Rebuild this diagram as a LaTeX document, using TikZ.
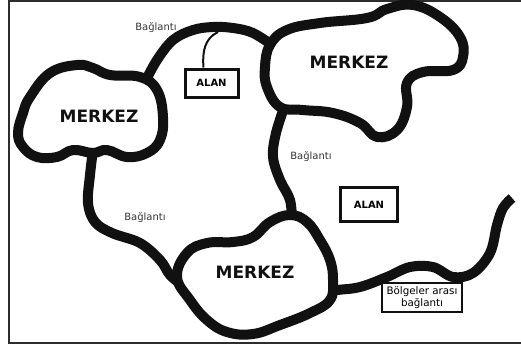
\documentclass[tikz,border=0pt]{standalone}
\usepackage{fontspec}
\usepackage{tikz}
\setmainfont{DejaVu Sans}
\definecolor{map-ink}{RGB}{17, 17, 17}
\definecolor{map-frame}{RGB}{45, 45, 45}

\begin{document}
\begin{tikzpicture}[x=1pt, y=-1pt,
    road/.style={line width=10pt, color=map-ink, line cap=round, line join=round},
    blob/.style={line width=10pt, draw=map-ink, fill=white, line join=round},
    centre/.style={font=\fontsize{17}{19}\selectfont\bfseries, color=map-ink},
    linklabel/.style={font=\fontsize{10}{12}\selectfont, color=map-ink!85},
    areabox/.style={rectangle, draw=map-ink, line width=3pt, fill=white, font=\fontsize{10}{12}\selectfont\bfseries, inner sep=0pt},
    notebox/.style={rectangle, draw=map-ink, line width=1.2pt, fill=white, font=\fontsize{10.3}{12}\selectfont, align=center, inner sep=0pt}]
    \clip (0,0) rectangle (521,348);
    \draw[line width=2pt, color=map-frame] (9,1) rectangle (540,343);

    % roads between the centres
    \draw[road] plot[smooth, tension=0.6] coordinates {(93,150) (90,175) (88,203) (95,222) (112,233) (140,243) (160,260) (170,275) (182,285)};
    \draw[road] plot[smooth, tension=0.6] coordinates {(145,82) (157,60) (173,40) (193,30) (213,27) (233,28) (253,33) (275,47)};
    \draw[road] plot[smooth, tension=0.6] coordinates {(285,105) (276,133) (273,157) (280,180) (290,200) (292,222)};
    \draw[road, line cap=butt] plot[smooth, tension=0.6] coordinates {(322,292) (337,290) (360,287) (387,277) (410,267) (433,267) (453,277) (473,273) (490,253) (497,225) (503,208) (512,198)};

    % the three centres
    \draw[blob] plot[smooth cycle, tension=0.7] coordinates {(30,97) (50,73) (77,65) (93,68) (110,75) (140,77) (157,90) (163,117) (160,140) (147,153) (127,157) (107,150) (93,153) (73,150) (57,157) (37,157) (23,147) (18,133) (23,113)};
    \draw[blob] plot[smooth cycle, tension=0.7] coordinates {(265,67) (270,45) (287,30) (320,23) (367,18) (387,9) (413,5) (440,17) (460,37) (463,57) (453,70) (423,72) (407,83) (407,107) (397,130) (377,137) (360,123) (333,113) (303,110) (280,107) (267,87)};
    \draw[blob] plot[smooth cycle, tension=0.7] coordinates {(177,277) (187,253) (207,243) (233,242) (253,237) (270,222) (290,215) (307,222) (320,240) (330,260) (333,280) (330,300) (310,313) (280,325) (253,334) (227,332) (207,320) (190,300)};

    \node[centre] (west) at (99,116) {MERKEZ};
    \node[centre] (north) at (349,62) {MERKEZ};
    \node[centre] (south) at (255,272) {MERKEZ};

    \node[linklabel] (linkA) at (156,28) {Bağlantı};
    \node[linklabel] (linkB) at (311,157) {Bağlantı};
    \node[linklabel] (linkC) at (145,218) {Bağlantı};

    % areas
    \coordinate (hook) at (218,32);
    \node[areabox, minimum width=53pt, minimum height=28pt] (area1) at (211.5,83) {ALAN};
    \draw[line width=2pt, color=map-ink] (hook) to[out=205, in=95] ([xshift=-8pt]area1.north);
    \node[areabox, minimum width=57pt, minimum height=34pt] (area2) at (369,204.5) {ALAN};

    \node[notebox, minimum width=80pt, minimum height=29pt] (inter) at (422,297.5) {Bölgeler arası\\bağlantı};
\end{tikzpicture}
\end{document}
